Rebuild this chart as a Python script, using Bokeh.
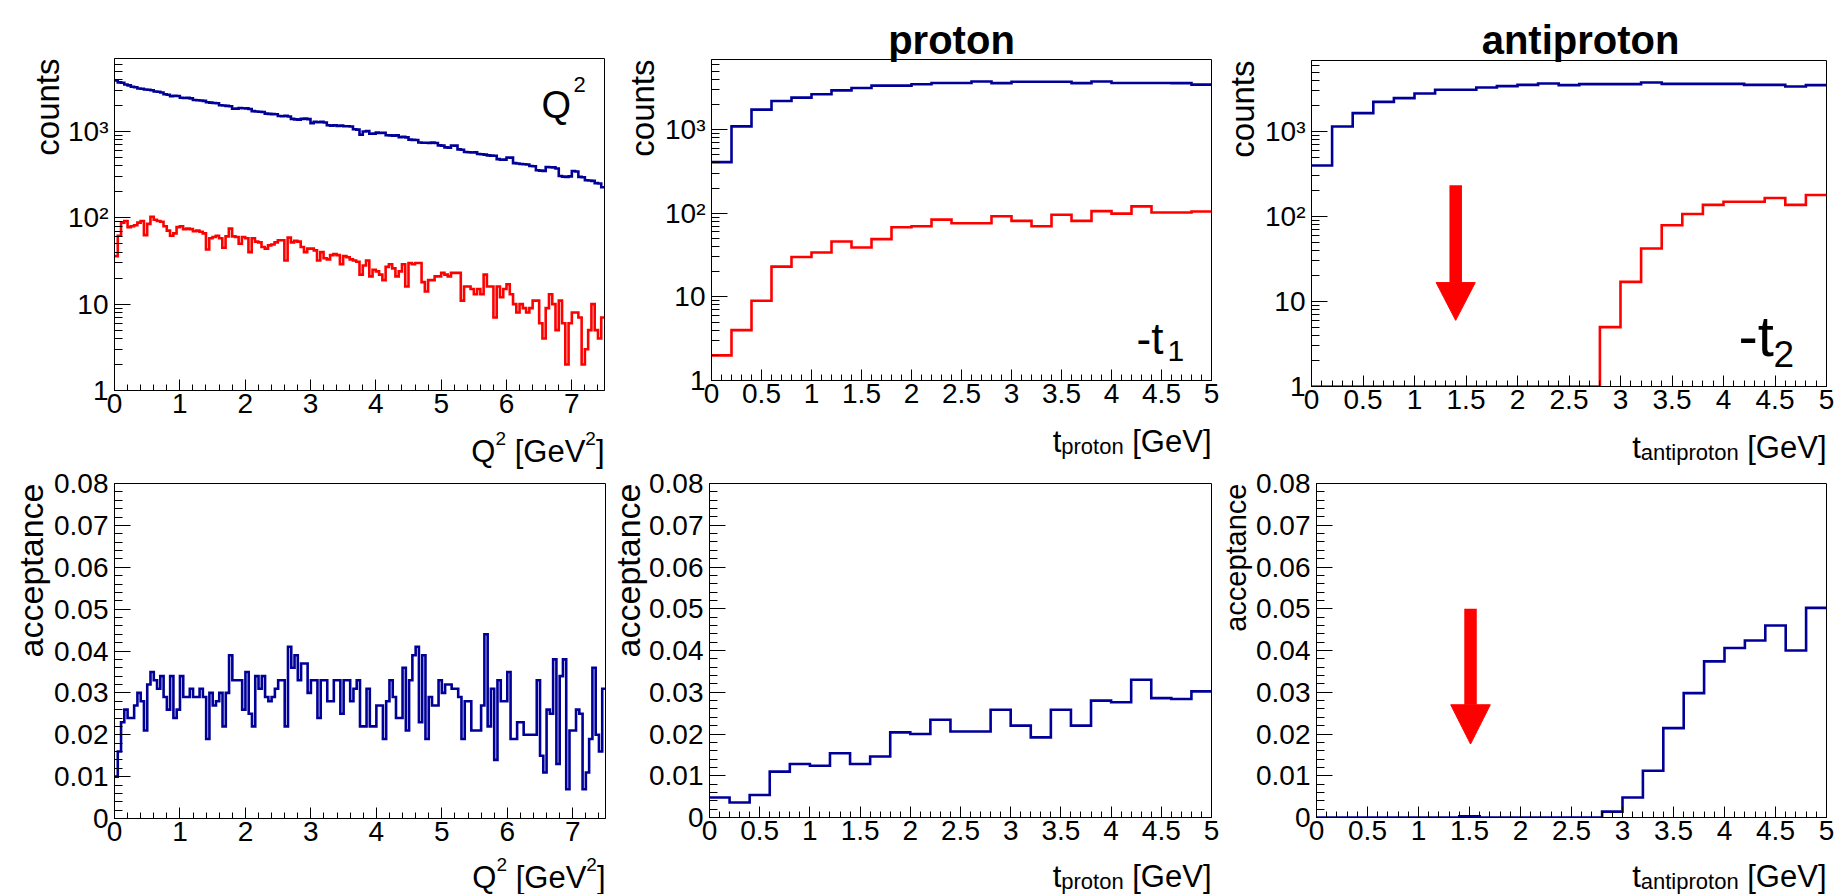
import numpy as np
from jinja2 import Template
from bokeh.plotting import figure
from bokeh.models import Range1d, FixedTicker, CustomJSTickFormatter, Label
from bokeh.embed import file_html
from bokeh.resources import INLINE

FONT = "Liberation Sans"
BLUE = "#000099"
RED = "#ff0000"
LW = 2.6

# ------------------------------------------------------------------ data
q2_range = [0.0, 7.5]          # 150 bins of 0.05 GeV^2
t_range = [0.0, 5.0]           # 25 bins of 0.2 GeV

q2_generated = [
    3910, 3700, 3660, 3500, 3420, 3300, 3250, 3150, 3120, 3060,
    3040, 3000, 2900, 2880, 2830, 2700, 2660, 2560, 2590, 2570,
    2460, 2440, 2450, 2420, 2310, 2300, 2280, 2260, 2180, 2160,
    2140, 2120, 2010, 2000, 1980, 1960, 1830, 1840, 1870, 1860,
    1850, 1820, 1720, 1700, 1690, 1680, 1610, 1600, 1590, 1580,
    1510, 1500, 1520, 1490, 1400, 1380, 1370, 1400, 1410, 1390,
    1250, 1290, 1280, 1290, 1270, 1180, 1170, 1180, 1160, 1170,
    1150, 1150, 1140, 1060, 1050, 915, 1000, 1010, 940, 945,
    970, 960, 965, 905, 900, 895, 900, 860, 865, 855,
    805, 800, 795, 745, 740, 740, 738, 742, 735, 690,
    686, 655, 650, 688, 685, 620, 615, 578, 575, 570,
    573, 548, 545, 540, 528, 525, 524, 478, 470, 472,
    500, 498, 430, 425, 420, 418, 415, 398, 395, 355,
    352, 350, 388, 385, 384, 372, 305, 300, 298, 302,
    348, 344, 298, 295, 272, 270, 268, 252, 250, 226]

q2_accepted = [
    36, 62, 88, 92, 78, 80, 82, 88, 92, 63,
    85, 103, 95, 92, 90, 80, 71, 62, 66, 78,
    80, 74, 75, 74, 70, 71, 69, 66, 43, 58,
    60, 62, 58, 45, 61, 75, 61, 60, 50, 60,
    58, 40, 58, 53, 52, 46, 44, 48, 49, 52,
    55, 55, 32, 59, 52, 54, 53, 46, 40, 44,
    44, 42, 32, 40, 34, 33, 37, 38, 37, 29,
    36, 35, 33, 32, 31, 22, 28, 32, 21, 25,
    24, 22, 19, 27, 29, 26, 21, 24, 29, 16,
    30, 29, 30, 30, 18, 14, 19, 19, 21, 21,
    23, 22, 21, 23, 23, 23, 11, 16, 16, 15,
    13, 15, 13, 22, 16, 16, 7, 16, 12, 15,
    17, 13, 10, 8, 10, 9, 8, 9, 11, 11,
    6, 4, 9, 13, 10, 5, 11, 6, 2, 6,
    8, 8, 7, 2, 3, 5, 10, 5, 4, 7]

q2_acceptance = [
    0.010, 0.016, 0.023, 0.026, 0.024, 0.024, 0.027, 0.030, 0.028, 0.021,
    0.032, 0.035, 0.033, 0.031, 0.034, 0.029, 0.026, 0.034, 0.024, 0.026,
    0.034, 0.029, 0.029, 0.031, 0.029, 0.029, 0.031, 0.029, 0.019, 0.030,
    0.027, 0.028, 0.030, 0.022, 0.030, 0.039, 0.033, 0.033, 0.033, 0.026,
    0.035, 0.025, 0.022, 0.034, 0.031, 0.034, 0.029, 0.028, 0.029, 0.031,
    0.033, 0.033, 0.022, 0.041, 0.036, 0.039, 0.033, 0.037, 0.037, 0.030,
    0.033, 0.033, 0.024, 0.033, 0.033, 0.028, 0.028, 0.033, 0.033, 0.025,
    0.033, 0.033, 0.028, 0.031, 0.033, 0.022, 0.022, 0.031, 0.022, 0.022,
    0.027, 0.027, 0.019, 0.028, 0.033, 0.029, 0.024, 0.024, 0.036, 0.021,
    0.033, 0.039, 0.041, 0.023, 0.039, 0.019, 0.029, 0.027, 0.027, 0.033,
    0.030, 0.032, 0.032, 0.031, 0.031, 0.029, 0.019, 0.028, 0.028, 0.021,
    0.021, 0.021, 0.027, 0.044, 0.022, 0.031, 0.014, 0.033, 0.028, 0.028,
    0.035, 0.019, 0.019, 0.023, 0.023, 0.020, 0.020, 0.020, 0.020, 0.033,
    0.015, 0.011, 0.026, 0.025, 0.038, 0.013, 0.034, 0.038, 0.007, 0.021,
    0.021, 0.026, 0.025, 0.007, 0.011, 0.019, 0.036, 0.020, 0.016, 0.031]

tp_generated = [409, 1095, 1735, 2200, 2415, 2645, 2950, 3145, 3360, 3360,
                3485, 3610, 3610, 3760, 3600, 3740, 3740, 3740, 3600, 3760,
                3620, 3620, 3620, 3600, 3450]
tp_accepted = [2, 4, 9, 23, 30, 34, 46, 39, 49, 68, 70, 84, 76, 76, 92, 81,
               70, 96, 81, 106, 99, 121, 102, 102, 105]
tp_acceptance = [0.0048, 0.0036, 0.0054, 0.0110, 0.0128, 0.0124, 0.0154,
                 0.0128, 0.0146, 0.0204, 0.0200, 0.0234, 0.0206, 0.0206,
                 0.0258, 0.0220, 0.0192, 0.0258, 0.0220, 0.0280, 0.0276,
                 0.0330, 0.0286, 0.0284, 0.0302]

tpbar_generated = [398, 1145, 1645, 2235, 2470, 2800, 3095, 3095, 3300, 3420,
                   3540, 3670, 3515, 3610, 3610, 3610, 3770, 3640, 3640, 3640,
                   3640, 3540, 3540, 3385, 3515]
tpbar_accepted = [0, 0, 0, 0, 0, 0, 0, 1, 0, 0, 0, 0, 0, 0, 5, 17, 42, 79,
                  107, 137, 149, 149, 165, 137, 179]
tpbar_acceptance = [0, 0, 0, 0, 0, 0, 0, 0.0003, 0, 0, 0, 0, 0, 0, 0.0014,
                    0.0048, 0.0112, 0.0214, 0.0298, 0.0374, 0.0406, 0.0424,
                    0.0460, 0.0400, 0.0502]

# arrows: [top-right panel, bottom-right panel]
arrow_x = [1.40, 1.51]
arrow_top = [234.0, 0.050]
arrow_base = [16.7, 0.027]
arrow_tip = [6.0, 0.0176]
arrow_half_width = [0.19, 0.194]

# axis ticks
log_ticks = [1, 10, 100, 1000]
log_tick_labels = ["1", "10", "10\u00b2", "10\u00b3"]
acc_ticks = [0.0, 0.01, 0.02, 0.03, 0.04, 0.05, 0.06, 0.07, 0.08]
acc_tick_labels = ["0", "0.01", "0.02", "0.03", "0.04", "0.05", "0.06", "0.07", "0.08"]
q2_ticks = [0, 1, 2, 3, 4, 5, 6, 7]
q2_tick_labels = ["0", "1", "2", "3", "4", "5", "6", "7"]
t_ticks = [0, 0.5, 1, 1.5, 2, 2.5, 3, 3.5, 4, 4.5, 5]
t_tick_labels = ["0", "0.5", "1", "1.5", "2", "2.5", "3", "3.5", "4", "4.5", "5"]

log_minor = [m * 10 ** e for e in range(0, 4) for m in range(2, 10) if m * 10 ** e < 6800]
acc_minor = [round(i * 0.002, 4) for i in range(41)]
q2_minor = [round(i * 0.2, 4) for i in range(38)]
t_minor = [round(i * 0.1, 4) for i in range(51)]

# ------------------------------------------------------------------ layout
PAGE_W, PAGE_H = 1845, 894
COLS = [(0, 612), (612, 608), (1220, 625)]
ROWS = [(0, 465), (465, 429)]

ARIAL = {' ': 278, '[': 278, ']': 278, 'G': 778, 'e': 556, 'V': 667, 't': 278,
         'p': 556, 'r': 333, 'o': 556, 'n': 556, 'a': 556, 'i': 222,
         'Q': 778, '2': 556, '1': 556}


def tw(s, size):
    return sum(ARIAL[c] for c in s) / 1000.0 * size


def formatter(vals, labels):
    return CustomJSTickFormatter(args=dict(tv=list(vals), tl=list(labels)), code="""
        for (let i = 0; i < tv.length; i++) {
            if (Math.abs(tv[i] - tick) < 1e-9 * Math.max(1, Math.abs(tick))) return tl[i];
        }
        return '';
    """)


# transparent page-sized layer that carries the texts placed around the frames
overlay = figure(width=PAGE_W, height=PAGE_H, x_range=Range1d(0, PAGE_W),
                 y_range=Range1d(PAGE_H, 0), output_backend="svg",
                 toolbar_location=None, title=None, x_axis_location=None,
                 y_axis_location=None, min_border=0)
overlay.grid.visible = False
overlay.outline_line_color = None
overlay.background_fill_color = None
overlay.border_fill_color = None


def text(px, py, s, size, align="left", angle=0.0, bold=False):
    overlay.add_layout(Label(x=px, y=py, text=s, text_font=FONT,
                             text_font_size=f"{size}px",
                             text_font_style="bold" if bold else "normal",
                             text_color="black", text_align=align,
                             text_baseline="alphabetic", angle=angle))


def text_right(x_right, base, items):
    """items: (string, size, baseline shift, gap before); laid out leftwards."""
    x = x_right
    for s, size, dy, gap in reversed(items):
        text(x, base + dy, s, size, align="right")
        x -= tw(s, size) + tw(" ", size) * gap


class Panel:
    def __init__(self, col, rowi, frame, xr, yr, log):
        self.cx0, self.cw = COLS[col]
        self.ry0, self.rh = ROWS[rowi]
        self.L, self.R, self.T, self.B = frame
        self.xr, self.yr, self.log = xr, yr, log
        p = figure(width=self.cw, height=self.rh,
                   x_range=Range1d(*xr), y_range=Range1d(*yr),
                   y_axis_type="log" if log else "linear",
                   output_backend="svg", toolbar_location=None, title=None,
                   min_border_left=self.L - self.cx0,
                   min_border_right=self.cx0 + self.cw - self.R,
                   min_border_top=self.T - self.ry0,
                   min_border_bottom=self.ry0 + self.rh - self.B)
        p.grid.visible = False
        p.outline_line_color = "black"
        p.outline_line_width = 1
        p.background_fill_color = "white"
        p.border_fill_color = "white"
        for ax in (p.xaxis[0], p.yaxis[0]):
            ax.axis_line_color = "black"
            ax.major_tick_line_color = "black"
            ax.minor_tick_line_color = "black"
            ax.major_tick_out = 0
            ax.minor_tick_out = 0
            ax.major_label_text_font = FONT
            ax.major_label_text_font_size = "28px"
            ax.major_label_text_color = "black"
        p.xaxis.major_tick_in = 11
        p.xaxis.minor_tick_in = 6
        p.yaxis.major_tick_in = 16
        p.yaxis.minor_tick_in = 8
        p.xaxis.major_label_standoff = 3
        p.yaxis.major_label_standoff = 6
        self.p = p

    def hist(self, vals, color, floor=None):
        n = len(vals)
        edges = np.linspace(self.xr[0], self.xr[1], n + 1)
        y = np.asarray(vals, dtype=float)
        if floor is not None:
            y = np.maximum(y, floor)
        self.p.step(x=edges, y=np.append(y, y[-1]), mode="after",
                    line_color=color, line_width=LW, line_join="miter")

    def xticks(self, ticks, labels, minor):
        self.p.xaxis.ticker = FixedTicker(ticks=ticks, minor_ticks=minor)
        self.p.xaxis.formatter = formatter(ticks, labels)

    def yticks(self, ticks, labels, minor):
        self.p.yaxis.ticker = FixedTicker(ticks=ticks, minor_ticks=minor)
        self.p.yaxis.formatter = formatter(ticks, labels)

    def xtitle_q2(self, gap):
        text_right(self.R, self.B + gap,
                   [("Q", 31, 0, 0), ("2", 19, -13, 0), ("[GeV", 31, 0, 1),
                    ("2", 19, -13, 0), ("]", 31, 0, 0)])

    def xtitle_t(self, sub, gap):
        text_right(self.R, self.B + gap,
                   [("t", 31, 0, 0), (sub, 22, 5, 0), ("[GeV]", 31, 0, 1)])

    def ytitle(self, s, anchor_x, size):
        text(anchor_x, self.T, s, size, align="right", angle=np.pi / 2)

    def arrow(self, k):
        x = arrow_x[k]
        self.p.segment(x0=[x], y0=[arrow_top[k]], x1=[x], y1=[arrow_base[k]],
                       line_color=RED, line_width=12.5, line_cap="butt")
        hw = arrow_half_width[k]
        self.p.patch(x=[x - hw, x + hw, x], y=[arrow_base[k], arrow_base[k], arrow_tip[k]],
                     fill_color=RED, line_color=RED, line_width=1)


# --- top-left: Q^2 counts
P1 = Panel(0, 0, (114, 604, 58, 390), q2_range, (1, 7000), True)
P1.hist(q2_generated, BLUE)
P1.hist(q2_accepted, RED, floor=1)
P1.xticks(q2_ticks, q2_tick_labels, q2_minor)
P1.yticks(log_ticks, log_tick_labels, log_minor)
P1.xtitle_q2(61)
P1.ytitle("counts", 47, 33)
text(541, 104, "Q", 38)
text(573, 84, "2", 22)

# --- top-middle: proton t counts
P2 = Panel(1, 0, (711, 1211, 59, 380), t_range, (1, 6900), True)
P2.hist(tp_generated, BLUE)
P2.hist(tp_accepted, RED, floor=1)
P2.xticks(t_ticks, t_tick_labels, t_minor)
P2.yticks(log_ticks, log_tick_labels, log_minor)
P2.xtitle_t("proton", 61)
P2.ytitle("counts", 642, 33)
text(951, 39, "proton", 40, align="center", bold=True)
text(1136, 338, "-t", 44)
text(1167, 350, "1", 30)

# --- top-right: antiproton t counts
P3 = Panel(2, 0, (1311, 1826, 60, 386), t_range, (1, 6850), True)
P3.hist(tpbar_generated, BLUE)
P3.hist(tpbar_accepted, RED, floor=1)
P3.xticks(t_ticks, t_tick_labels, t_minor)
P3.yticks(log_ticks, log_tick_labels, log_minor)
P3.xtitle_t("antiproton", 61)
P3.ytitle("counts", 1242, 33)
text(1580, 39, "antiproton", 40, align="center", bold=True)
text(1738, 335, "-t", 58)
text(1773, 353, "2", 37)
P3.arrow(0)

# --- bottom-left: Q^2 acceptance
P4 = Panel(0, 1, (114, 605, 483, 818), q2_range, (0, 0.08), False)
P4.hist(q2_acceptance, BLUE)
P4.xticks(q2_ticks, q2_tick_labels, q2_minor)
P4.yticks(acc_ticks, acc_tick_labels, acc_minor)
P4.xtitle_q2(59)
P4.ytitle("acceptance", 30, 34)

# --- bottom-middle: proton acceptance
P5 = Panel(1, 1, (709, 1211, 483, 817), t_range, (0, 0.08), False)
P5.hist(tp_acceptance, BLUE)
P5.xticks(t_ticks, t_tick_labels, t_minor)
P5.yticks(acc_ticks, acc_tick_labels, acc_minor)
P5.xtitle_t("proton", 59)
P5.ytitle("acceptance", 627, 34)

# --- bottom-right: antiproton acceptance
P6 = Panel(2, 1, (1316, 1826, 483, 817), t_range, (0, 0.08), False)
P6.hist(tpbar_acceptance, BLUE)
P6.xticks(t_ticks, t_tick_labels, t_minor)
P6.yticks(acc_ticks, acc_tick_labels, acc_minor)
P6.xtitle_t("antiproton", 59)
P6.ytitle("acceptance", 1235, 29)
P6.arrow(1)

panels = [P1, P2, P3, P4, P5, P6]
roots = [q.p for q in panels] + [overlay]

PAGE = Template("""{% from macros import embed %}
<!DOCTYPE html>
<html lang="en">
<head>
<meta charset="utf-8">
<title>{{ title }}</title>
<style>
html, body { margin: 0; padding: 0; width: 1845px; height: 894px; overflow: hidden; background: white; }
.cell { position: absolute; }
</style>
{{ bokeh_css if bokeh_css }}
{{ bokeh_js if bokeh_js }}
</head>
<body>
{% for i in range(n_roots) %}
<div class="cell" style="left: {{ lefts[i] }}px; top: {{ tops[i] }}px; width: {{ widths[i] }}px; height: {{ heights[i] }}px; z-index: {{ i + 1 }};">
{{ embed(roots[i]) }}
</div>
{% endfor %}
{{ plot_script | indent(4) }}
</body>
</html>
""")

html = file_html(roots, INLINE, "acceptance", template=PAGE,
                 template_variables=dict(
                     n_roots=len(roots),
                     lefts=[q.cx0 for q in panels] + [0],
                     tops=[q.ry0 for q in panels] + [0],
                     widths=[q.cw for q in panels] + [PAGE_W],
                     heights=[q.rh for q in panels] + [PAGE_H]))
open("out.html", "w").write(html)
